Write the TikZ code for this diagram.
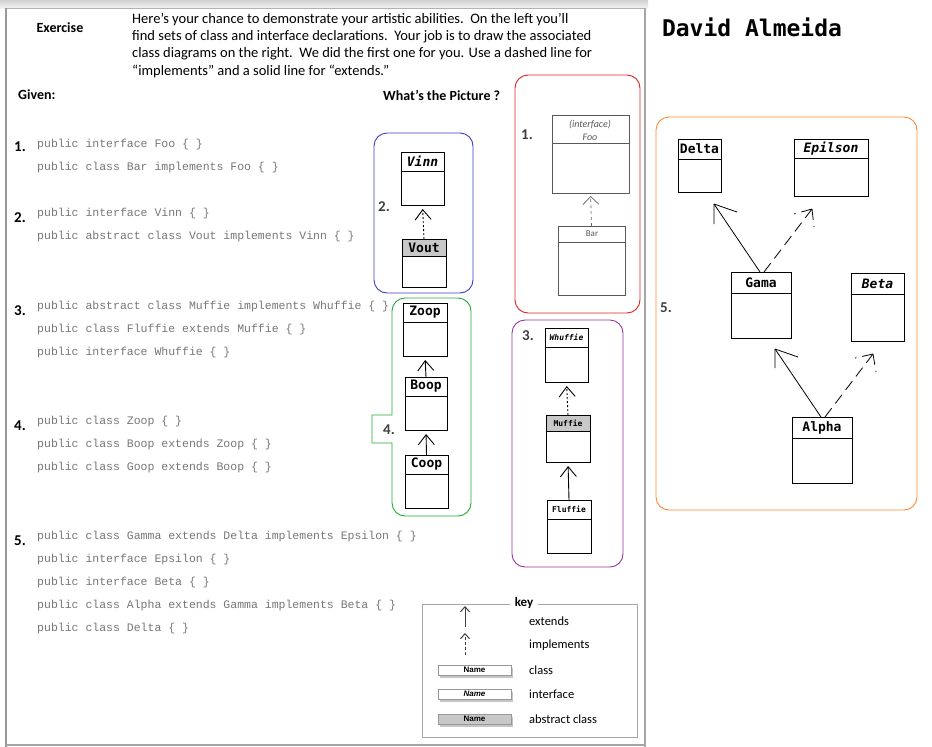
\documentclass[tikz,border=0pt]{standalone}
\usepackage{fontspec}
\setmainfont{Carlito}
\newfontfamily\codefont{Liberation Mono}
\newfontfamily\umlfont{DejaVu Sans Mono}
\newfontfamily\keyfont{Liberation Sans}
\usetikzlibrary{arrows.meta,shadows}
\definecolor{boxblue}{HTML}{3C3CC8}
\definecolor{boxgreen}{HTML}{22AA33}
\definecolor{boxred}{HTML}{DD2222}
\definecolor{boxpurple}{HTML}{9933A0}
\definecolor{boxorange}{HTML}{FF8833}
\definecolor{absgray}{HTML}{C8C8C8}
\definecolor{codegray}{HTML}{777777}
\newcommand{\umlcls}[8]{%
  \node[clstitle, #8, minimum width={(#4-#2)*1pt}, minimum height={(#5-#3)*1pt}, anchor=north west] (#1t) at (#2,#3) {#7};
  \node[clsbody, minimum width={(#4-#2)*1pt}, minimum height={(#6-#5)*1pt}, anchor=north west] (#1) at (#2,#5) {};
}
\tikzset{
  clstitle/.style={draw, line width=1pt, inner sep=0pt, outer sep=0pt},
  clsbody/.style={draw, line width=1pt, inner sep=0pt, outer sep=0pt, fill=white},
  cls/.style={fill=white, font=\umlfont\bfseries\fontsize{13}{13}\selectfont},
  ifc/.style={fill=white, font=\umlfont\bfseries\itshape\fontsize{13}{13}\selectfont},
  abs/.style={fill=absgray, font=\umlfont\bfseries\fontsize{13}{13}\selectfont},
  clss/.style={fill=white, font=\umlfont\bfseries\fontsize{8}{8}\selectfont},
  ifcs/.style={fill=white, font=\umlfont\bfseries\itshape\fontsize{8}{8}\selectfont},
  abss/.style={fill=absgray, font=\umlfont\bfseries\fontsize{8}{8}\selectfont},
  ext/.style={-{Straight Barb[length=10pt,width=16pt]}, line width=0.9pt, shorten >=4pt},
  impl/.style={ext, dash pattern=on 2pt off 2pt},
  grp/.style={rounded corners=13pt, line width=0.9pt},
  code/.style={anchor=west, inner sep=0pt, text=codegray, font=\codefont\fontsize{11.5}{12}\selectfont},
  num/.style={anchor=west, inner sep=0pt, font=\bfseries\fontsize{15}{15}\selectfont},
  innum/.style={inner sep=0pt, text=black!75, font=\bfseries\fontsize{15}{15}\selectfont},
  para/.style={anchor=west, inner sep=0pt, font=\fontsize{14.5}{14.5}\selectfont},
  head/.style={anchor=west, inner sep=0pt, font=\bfseries\fontsize{14}{14}\selectfont},
  sketch/.style={draw=black!65, line width=0.6pt, inner sep=0pt, outer sep=0pt},
  sketchtxt/.style={inner sep=0pt, text=black!65, font=\itshape\fontsize{10}{10}\selectfont},
  a5/.style={line width=0.8pt},
  d5/.style={dash pattern=on 11pt off 6pt},
  keylbl/.style={anchor=west, inner sep=0pt, font=\fontsize{12.5}{12.5}\selectfont},
  keybox/.style={draw=gray!80, line width=0.8pt, fill=white, minimum width=73pt, minimum height=10pt, inner sep=0pt,
     drop shadow={opacity=0.45, shadow xshift=2pt, shadow yshift=-3pt}, font=\keyfont\bfseries\fontsize{8}{8}\selectfont},
}
\begin{document}
\begin{tikzpicture}[x=1pt,y=-1pt]
\useasboundingbox (0,0) rectangle (932,747);
\fill[white] (0,0) rectangle (932,747);
% page frame
\fill[top color=gray!35, bottom color=gray!10] (0,0) rectangle (648,8);
\draw[gray!60, line width=1pt] (6,8) -- (645,8);
\draw[gray!70, line width=1.5pt] (645,8) -- (645,747);
\draw[gray!80, line width=2.5pt] (6,8) -- (6,747);
\draw[gray!70, line width=1.5pt] (6,745) -- (645,745);

% header
\node[inner sep=0pt, font=\bfseries\fontsize{14}{14}\selectfont] (ex) at (60,28) {Exercise};
\node[para] (p1) at (132,20) {Here's your chance to demonstrate your artistic abilities.\ \ On the left you'll};
\node[para] (p2) at (132,37) {find sets of class and interface declarations.\ \ Your job is to draw the associated};
\node[para] (p3) at (132,54) {class diagrams on the right.\ \ We did the first one for you. Use a dashed line for};
\node[para] (p4) at (132,71) {``implements'' and a solid line for ``extends.''};
\node[head] (given) at (18,95) {Given:};
\node[head] (what) at (383,95) {What's the Picture ?};
\node[inner sep=0pt, font=\umlfont\bfseries\fontsize{23}{23}\selectfont] (name) at (752,27) {David Almeida};

% code
\node[num] (n1) at (14,147) {1.};
\node[code] (c11) at (37,145) {public interface Foo \{ \}};
\node[code] (c12) at (37,168) {public class Bar implements Foo \{ \}};
\node[num] (n2) at (14,218) {2.};
\node[code] (c21) at (37,214) {public interface Vinn \{ \}};
\node[code] (c22) at (37,237) {public abstract class Vout implements Vinn \{ \}};
\node[num] (n3) at (14,311) {3.};
\node[code] (c31) at (37,307) {public abstract class Muffie implements Whuffie \{ \}};
\node[code] (c32) at (37,330) {public class Fluffie extends Muffie \{ \}};
\node[code] (c33) at (37,353) {public interface Whuffie \{ \}};
\node[num] (n4) at (14,426) {4.};
\node[code] (c41) at (37,422) {public class Zoop \{ \}};
\node[code] (c42) at (37,445) {public class Boop extends Zoop \{ \}};
\node[code] (c43) at (37,468) {public class Goop extends Boop \{ \}};
\node[num] (n5) at (14,541) {5.};
\node[code] (c51) at (37,537) {public class Gamma extends Delta implements Epsilon \{ \}};
\node[code] (c52) at (37,560) {public interface Epsilon \{ \}};
\node[code] (c53) at (37,583) {public interface Beta \{ \}};
\node[code] (c54) at (37,606) {public class Alpha extends Gamma implements Beta \{ \}};
\node[code] (c55) at (37,629) {public class Delta \{ \}};

% box 1 (red, sketch)
\draw[grp, boxred] (515,75) rectangle (640,313);
\node[innum] (b1n) at (527,135) {1.};
\node[sketch, draw, minimum width=77pt, minimum height=78pt, anchor=north west] (Foo) at (552,115) {};
\draw[sketch] (552,143) -- (629,143);
\node[sketchtxt] (Fook) at (590,125) {(interface)};
\node[sketchtxt] (Foon) at (590,137) {Foo};
\node[sketch, draw, minimum width=67pt, minimum height=69pt, anchor=north west] (Bar) at (558,226) {};
\draw[sketch] (558,242) -- (625,242);
\node[sketchtxt, font=\fontsize{9}{9}\selectfont] (Barn) at (592,234) {Bar};
\draw[draw=black!60, line width=0.7pt, dash pattern=on 3pt off 3pt, -{Straight Barb[length=8pt,width=16pt]}, shorten >=3pt] (Bar.north) -- (Foo.south);

% box 2 (blue)
\draw[grp, boxblue] (374,133) rectangle (473,293);
\node[innum] (b2n) at (384,207) {2.};
\umlcls{Vinn}{401}{152}{444}{171}{205}{Vinn}{ifc}
\umlcls{Vout}{402}{239}{446}{256}{287}{Vout}{abs}
\draw[impl] (Voutt.north) -- (Vinn.south);

% box 4 (green)
\draw[boxgreen, line width=0.9pt] (392,480) [rounded corners=13pt] -- (392,516) -- (471,516) -- (471,298) -- (392,298) -- (392,400) [sharp corners] -- (392,415) -- (372,415) -- (372,443) -- (392,443) -- (392,480);
\node[innum] (b4n) at (389,430) {4.};
\umlcls{Zoop}{403}{303}{447}{322}{356}{Zoop}{cls}
\umlcls{Boop}{405}{377}{447}{396}{430}{Boop}{cls}
\umlcls{Coop}{405}{455}{448}{474}{508}{Coop}{cls}
\draw[ext] (Boopt.north) -- (Zoop.south);
\draw[ext] (Coopt.north) -- (Boop.south);

% box 3 (purple)
\draw[grp, boxpurple] (512,320) rectangle (623,567);
\node[innum] (b3n) at (528,336) {3.};
\umlcls{Whuffie}{545}{328}{588}{347}{382}{Whuffie}{ifcs}
\umlcls{Muffie}{546}{415}{590}{431}{462}{Muffie}{abss}
\umlcls{Fluffie}{547}{500}{591}{519}{553}{Fluffie}{clss}
\draw[impl] (Muffiet.north) -- (Whuffie.south);
\draw[ext] (Fluffiet.north) -- (Muffie.south);

% box 5 (orange)
\draw[grp, boxorange] (656,117) rectangle (917,510);
\node[innum] (b5n) at (666,308) {5.};
\umlcls{Delta}{678}{139}{721}{159}{192}{Delta}{cls}
\umlcls{Epilson}{794}{139}{868}{158}{196}{Epilson}{ifc}
\umlcls{Gama}{731}{272}{791}{293}{338}{Gama}{cls}
\umlcls{Beta}{851}{273}{904}{294}{341}{Beta}{ifc}
\umlcls{Alpha}{792}{417}{852}{438}{483}{Alpha}{cls}
\coordinate (tD) at (714,204);
\coordinate (tE) at (812,209);
\coordinate (tG) at (775,349);
\coordinate (tB) at (873,354);
\draw[a5] ([xshift=-1pt]Gamat.north) -- (tD);
\draw[a5] (tD) -- ++(0,20) (tD) -- ++(23,8);
\draw[a5,d5] ([xshift=3pt]Gamat.north) -- (tE);
\draw[a5,d5] (tE) -- ++(-18,5) (tE) -- ++(2,18);
\draw[a5] ([xshift=-1pt]Alphat.north) -- (tG);
\draw[a5] (tG) -- ++(0,19) (tG) -- ++(23,8);
\draw[a5,d5] ([xshift=3pt]Alphat.north) -- (tB);
\draw[a5,d5] (tB) -- ++(-18,4) (tB) -- ++(3,18);

% key
\draw[gray!70, line width=0.8pt] (510,604) -- (422,604) -- (422,737) -- (637,737) -- (637,604) -- (538,604);
\node[inner sep=0pt, font=\bfseries\fontsize{13}{13}\selectfont] (keyt) at (524,603) {key};
\coordinate (ke1) at (465,627);
\coordinate (ke2) at (465,606);
\coordinate (ki1) at (465,655);
\coordinate (ki2) at (465,633);
\draw[line width=1pt, black!75, -{Straight Barb[length=5pt,width=9pt]}] (ke1) -- (ke2);
\draw[line width=1pt, black!75, dash pattern=on 3pt off 2pt, -{Straight Barb[length=5pt,width=9pt]}] (ki1) -- (ki2);
\node[keylbl] (kl1) at (529,621) {extends};
\node[keylbl] (kl2) at (529,645) {implements};
\node[keybox] (kb1) at (474.5,670) {Name};
\node[keylbl] (kl3) at (529,670) {class};
\node[keybox, font=\keyfont\bfseries\itshape\fontsize{8}{8}\selectfont] (kb2) at (474.5,694) {Name};
\node[keylbl] (kl4) at (529,694) {interface};
\node[keybox, fill=absgray] (kb3) at (474.5,719) {Name};
\node[keylbl] (kl5) at (529,719) {abstract class};
\end{tikzpicture}
\end{document}
